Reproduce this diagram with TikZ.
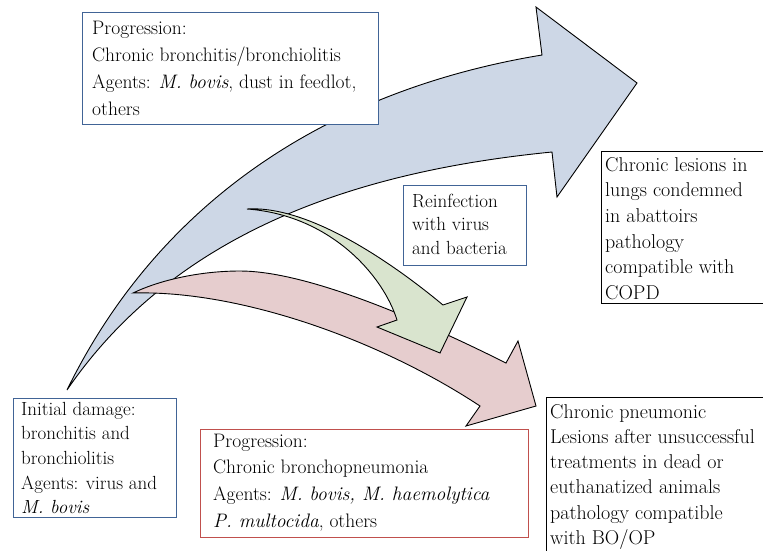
\documentclass[tikz,border=0pt]{standalone}
\begin{document}
\begin{tikzpicture}[x=1pt,y=-1pt]
\definecolor{bluebrd}{RGB}{65,100,150}
\definecolor{redbrd}{RGB}{192,80,77}
\definecolor{bluefill}{RGB}{205,215,230}
\definecolor{redfill}{RGB}{230,205,206}
\definecolor{greenfill}{RGB}{217,228,206}
\tikzset{
  arrowshape/.style={draw=black, line width=0.9pt, line join=miter},
  boxframe/.style={line width=1.2pt, fill=white, inner sep=0pt, anchor=north west},
  boxtext/.style 2 args={anchor=north west, align=left, inner sep=0pt, font=\fontsize{#1}{#2}\selectfont},
}
\useasboundingbox (0,0) rectangle (763,550);

% blue arrow
\draw[arrowshape, fill=bluefill]
  (67,390) .. controls (160,200) and (330,90) .. (542,55)
  -- (536,7) -- (637,83) -- (557,197) -- (552,152)
  .. controls (370,170) and (180,225) .. (67,390)
  -- cycle;

% red arrow
\draw[arrowshape, fill=redfill]
  (133,293) .. controls (160,280) and (200,271) .. (240,271)
  .. controls (300,271) and (400,310) .. (506,363)
  -- (518,341) -- (536,406) -- (466,426) -- (480,406)
  .. controls (380,340) and (240,290) .. (133,293)
  -- cycle;

% green arrow
\draw[arrowshape, fill=greenfill]
  (247,209) .. controls (310,205) and (395,265) .. (443,305)
  -- (467,297) -- (440,353) -- (377,327) -- (397,320)
  .. controls (383,275) and (330,215) .. (247,209)
  -- cycle;

% boxes
\node[boxframe, draw=bluebrd, minimum width=296pt, minimum height=112pt] (topbox) at (82,12) {};
\node[boxtext={19.5}{27}] (toptext) at (92,20.5) {Progression:\\Chronic bronchitis/bronchiolitis\\Agents: \textit{M. bovis}, dust in feedlot,\\others};

\node[boxframe, draw=bluebrd, minimum width=163pt, minimum height=119pt] (initbox) at (13,398) {};
\node[boxtext={19}{24.7}] (inittext) at (21,401.8) {Initial damage:\\bronchitis and\\bronchiolitis\\Agents: virus and\\\textit{M. bovis}};

\node[boxframe, draw=redbrd, minimum width=328pt, minimum height=108pt] (redbox) at (200,429) {};
\node[boxtext={19.5}{26.7}] (redtext) at (213,433.5) {Progression:\\Chronic bronchopneumonia\\Agents: \textit{M. bovis, M. haemolytica}\\\textit{P. multocida}, others};

\node[boxframe, draw=bluebrd, minimum width=123pt, minimum height=80pt] (reinfbox) at (403,185) {};
\node[boxtext={19}{23.5}] (reinftext) at (412,193.8) {Reinfection\\with virus\\and bacteria};

\node[boxframe, draw=black, minimum width=185pt, minimum height=152pt] (copdbox) at (601,151) {};
\node[boxtext={20}{25.6}] (copdtext) at (605,157.1) {Chronic lesions in\\lungs condemned\\in abattoirs\\pathology\\compatible with\\COPD};

\node[boxframe, draw=black, minimum width=240pt, minimum height=170pt] (bobox) at (546,397) {};
\node[boxtext={20}{25.2}] (botext) at (550,404.1) {Chronic pneumonic\\Lesions after unsuccessful\\treatments in dead or\\euthanatized animals\\pathology compatible\\with BO/OP};
\end{tikzpicture}
\end{document}
